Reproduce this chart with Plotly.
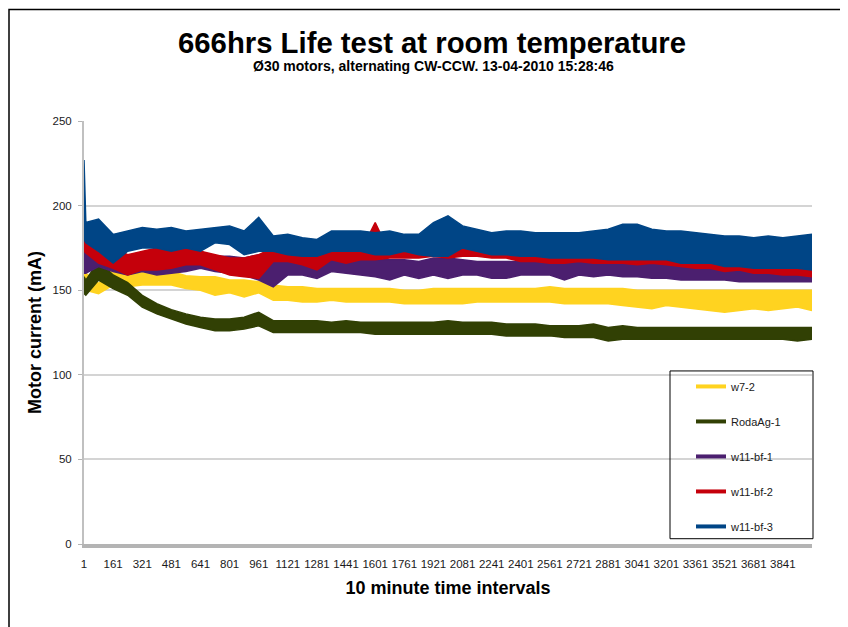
import plotly.graph_objects as go

intervals = [1, 11] + list(range(81, 4002, 80))

# upper / lower edge of each noisy trace (mA)
w7_2_hi = [160, 160, 154, 163, 161, 162, 163, 161, 158.5, 158, 158, 156, 156, 155,
           153, 152, 152, 151, 151, 151, 151, 151, 151, 150, 150, 151,
           151, 151, 151, 151, 151, 151, 151, 152, 151, 151, 151, 151, 151,
           150, 150, 150, 150, 150, 150, 150, 150, 150, 150, 150, 150, 150]
w7_2_lo = [148, 150, 148, 153, 152, 153, 153, 153, 151, 150, 147, 148.5, 146, 148.5,
           144, 144, 143, 143, 144, 143, 143, 143, 143, 142, 142, 142,
           142, 142, 143, 143, 143, 143, 143, 143, 142, 142, 142, 142, 141,
           140, 139, 141, 140, 139, 138, 137, 138, 139, 138, 139, 140, 138]

roda_hi = [158, 156, 167, 159, 154.5, 147, 142, 138.5, 136, 134, 133, 133, 134, 137,
           132, 132, 132, 132, 131, 132, 131, 131, 131, 131, 131, 131,
           132, 131, 131, 131, 130, 130, 130, 129, 129, 129, 130, 128, 129,
           128, 128, 128, 128, 128, 128, 128, 128, 128, 128, 128, 128, 128]
roda_lo = [148, 147, 156, 151, 147, 140, 136, 133, 130, 128, 126, 126, 127, 129,
           125, 125, 125, 125, 125, 125, 125, 124, 124, 124, 124, 124,
           124, 124, 124, 124, 123, 123, 123, 123, 122, 122, 122, 120, 121,
           121, 121, 121, 121, 121, 121, 121, 121, 121, 121, 121, 120, 121]

bf1_hi = [175, 172, 173, 167, 169, 167, 167, 169, 169, 173, 170, 170, 169, 171,
          171, 169, 169, 169, 169, 168, 169, 168, 168, 168, 167, 169,
          169, 168, 167, 167, 167, 167, 167, 167, 167, 167, 168, 169, 170,
          169, 167, 166, 165, 164, 164, 163, 163, 163, 163, 162, 162, 163]
bf1_lo = [160, 160, 164, 161, 159, 161, 159, 160, 161, 163, 161, 160, 159, 156,
          152, 159, 159, 157, 161, 160, 159, 158, 156, 159, 157, 159,
          157, 159, 159, 157, 157, 159, 159, 159, 156, 159, 158, 159, 158,
          158, 157, 157, 156, 156, 156, 156, 155, 155, 155, 155, 155, 155]

bf2_hi = [188, 186, 181, 175, 171, 173, 175, 175, 176, 173, 171, 169, 169, 171,
          175, 171, 173, 173, 173, 173, 173, 190, 172, 173, 175, 177,
          177, 178, 178, 175, 174, 173, 173, 173, 173, 172, 171, 172, 173,
          171, 172, 173, 171, 169, 168, 167, 168, 166, 167, 165, 166, 167]
bf2_lo = [173, 172, 166, 163, 159, 162, 162, 163, 165, 165, 162, 159, 158, 157,
          167, 167, 165, 162, 168, 166, 168, 168, 169, 169, 169, 170,
          169, 170, 170, 169, 169, 167, 167, 166, 166, 167, 166, 166, 166,
          165, 166, 165, 164, 163, 163, 161, 162, 160, 160, 159, 159, 158]

bf3_hi = [227, 190, 192, 183, 185, 187, 186, 187, 185, 186, 187, 188, 185, 193,
          182, 183, 181, 180, 185, 185, 185, 184, 185, 183, 183, 190,
          194, 188, 186, 184, 185, 185, 184, 184, 184, 184, 185, 186, 189,
          189, 186, 185, 185, 184, 183, 182, 182, 181, 182, 181, 182, 183]
bf3_lo = [180, 178, 173, 166, 173, 175, 175, 173, 175, 173, 178, 177, 171, 173,
          173, 171, 170, 170, 173, 173, 173, 171, 171, 173, 171, 170,
          170, 175, 173, 171, 171, 170, 170, 169, 169, 169, 169, 168, 168,
          168, 168, 168, 166, 166, 166, 164, 164, 163, 163, 163, 163, 162]

series = [
    ("w7-2", "#FFD320", w7_2_hi, w7_2_lo),
    ("RodaAg-1", "#314004", roda_hi, roda_lo),
    ("w11-bf-1", "#4B1F6F", bf1_hi, bf1_lo),
    ("w11-bf-2", "#C5000B", bf2_hi, bf2_lo),
    ("w11-bf-3", "#004586", bf3_hi, bf3_lo),
]

x_ticks = list(range(1, 3842, 160))

FONT = "Liberation Sans, Arial, sans-serif"

fig = go.Figure()

# noisy traces drawn as bands between their upper and lower edges
for name, color, hi, lo in series:
    fig.add_trace(go.Scatter(
        x=intervals, y=lo, mode="lines",
        line=dict(color=color, width=1.5),
        showlegend=False, hoverinfo="skip"
    ))
    fig.add_trace(go.Scatter(
        x=intervals, y=hi, mode="lines",
        line=dict(color=color, width=1.5),
        fill="tonexty", fillcolor=color,
        showlegend=False, name=name
    ))

# legend entries
for name, color, hi, lo in series:
    fig.add_trace(go.Scatter(
        x=[None], y=[None], mode="lines",
        line=dict(color=color, width=4),
        name=name, legendgroup=name
    ))


# page pixel -> paper fraction (plot area spans x 84..812, y 120.7..544.3 on the page)
def px_x(px):
    return (px - 84) / 728


def px_y(py):
    return (544.3 - py) / 423.6


fig.update_layout(
    width=840,
    height=619,
    margin=dict(l=76, r=36, t=112.7, b=82.7),
    paper_bgcolor="white",
    plot_bgcolor="white",
    font=dict(family=FONT, size=11, color="#1a1a1a"),
    showlegend=True,
    legend=dict(
        x=px_x(691), y=px_y(372), xanchor="left", yanchor="top",
        bgcolor="rgba(0,0,0,0)",
        font=dict(family=FONT, size=11, color="#1a1a1a"),
        tracegroupgap=16,
        itemwidth=30,
    ),
    xaxis=dict(
        range=[1, 4001],
        tickmode="array",
        tickvals=x_ticks,
        ticktext=[str(v) for v in x_ticks],
        tickangle=0,
        ticks="",
        showgrid=False,
        zeroline=False,
        showline=True,
        linecolor="#b4b4b4",
        linewidth=4,
        tickfont=dict(family=FONT, size=11.5, color="#1a1a1a"),
        ticklabelstandoff=6,
        title=dict(
            text="<b>10 minute time intervals</b>",
            font=dict(family=FONT, size=18, color="black"),
            standoff=14,
        ),
    ),
    yaxis=dict(
        range=[0, 250],
        tickvals=[0, 50, 100, 150, 200, 250],
        ticks="outside",
        ticklen=4,
        tickcolor="#b4b4b4",
        showgrid=True,
        gridcolor="#d4d4d4",
        gridwidth=1.5,
        zeroline=False,
        showline=True,
        linecolor="#c0c0c0",
        linewidth=2,
        tickfont=dict(family=FONT, size=11.5, color="#1a1a1a"),
        ticklabelstandoff=4,
        title=dict(
            text="<b>Motor current (mA)</b>",
            font=dict(family=FONT, size=18, color="black"),
            standoff=6,
        ),
    ),
    annotations=[
        dict(
            text="<b>666hrs Life test at room temperature</b>",
            x=px_x(432), y=px_y(42), xref="paper", yref="paper",
            xanchor="center", yanchor="middle", showarrow=False,
            font=dict(family=FONT, size=29.3, color="black"),
        ),
        dict(
            text="<b>Ø30 motors, alternating CW-CCW. 13-04-2010 15:28:46</b>",
            x=px_x(433), y=px_y(66), xref="paper", yref="paper",
            xanchor="center", yanchor="middle", showarrow=False,
            font=dict(family=FONT, size=14, color="black"),
        ),
    ],
    shapes=[
        # legend frame
        dict(type="rect", xref="paper", yref="paper",
             x0=px_x(670), x1=px_x(813), y0=px_y(539), y1=px_y(371),
             line=dict(color="black", width=1), layer="above"),
        # outer chart frame
        dict(type="rect", xref="paper", yref="paper",
             x0=px_x(9), x1=px_x(841), y0=px_y(660), y1=px_y(9),
             line=dict(color="black", width=1.5), layer="above"),
    ],
)

fig.write_html("out.html")
